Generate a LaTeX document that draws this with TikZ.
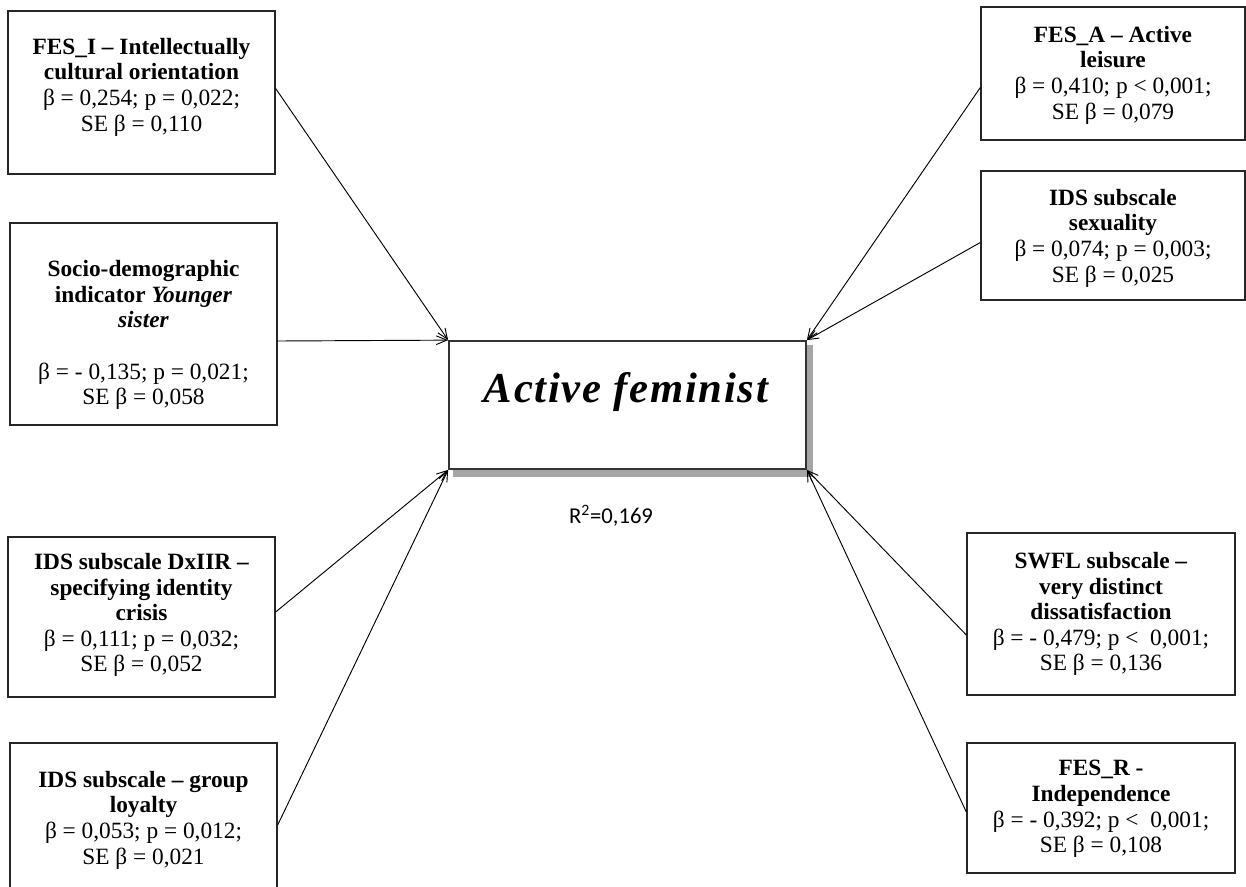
\documentclass[tikz,border=0pt]{standalone}
\usepackage{fontspec}
\setmainfont{Liberation Serif}
\newfontfamily\calibrifont{Carlito}
\usetikzlibrary{arrows.meta,fit,calc}
\begin{document}
\begin{tikzpicture}[x=0.75pt,y=-0.75pt,
  box/.style={draw=black!85,line width=1pt,inner sep=0pt,fill=white},
  txt/.style={align=center,inner sep=0pt,font=\fontsize{17.5}{19.2}\selectfont},
  conn/.style={line width=0.7pt,-{Straight Barb[length=8pt,width=6.5pt,line width=0.7pt]}}]
\useasboundingbox (0,0) rectangle (1246,886);
\clip (0,0) rectangle (1246,886);
% corner coordinates
\coordinate (b1a) at (8,11);    \coordinate (b1b) at (275,174);
\coordinate (b2a) at (10,223);  \coordinate (b2b) at (277,425);
\coordinate (b3a) at (8,537);   \coordinate (b3b) at (275,697);
\coordinate (b4a) at (10,743);  \coordinate (b4b) at (277,905);
\coordinate (r1a) at (981,7);   \coordinate (r1b) at (1245,140);
\coordinate (r2a) at (981,171); \coordinate (r2b) at (1245,300);
\coordinate (r3a) at (967,533); \coordinate (r3b) at (1235,695);
\coordinate (r4a) at (967,743); \coordinate (r4b) at (1235,873);
\coordinate (ca) at (449,341);  \coordinate (cb) at (806,469);
\coordinate (sa) at (453,345);  \coordinate (sb) at (813,477);
% boxes
\node[box,fit=(b1a)(b1b)] (b1) {};
\node[box,fit=(b2a)(b2b)] (b2) {};
\node[box,fit=(b3a)(b3b)] (b3) {};
\node[box,fit=(b4a)(b4b)] (b4) {};
\node[box,fit=(r1a)(r1b)] (r1) {};
\node[box,fit=(r2a)(r2b)] (r2) {};
\node[box,fit=(r3a)(r3b)] (r3) {};
\node[box,fit=(r4a)(r4b)] (r4) {};
\node[fill=black!35,draw=none,inner sep=0pt,fit=(sa)(sb)] (sh) {};
\node[box,line width=1.3pt,draw=black!80,fit=(ca)(cb)] (c) {};
% texts
\node[txt] (t1) at (141.5,87) {\textbf{FES\_I – Intellectually}\\\textbf{cultural orientation}\\β = 0,254; p = 0,022;\\SE β = 0,110};
\node[txt] (t2) at (143.5,335) {\textbf{Socio-demographic}\\\textbf{indicator \textit{Younger}}\\\textbf{\textit{sister}}\\[19.2pt]β = - 0,135; p = 0,021;\\SE β = 0,058};
\node[txt] (t3) at (141.5,615) {\textbf{IDS subscale DxIIR –}\\\textbf{specifying identity}\\\textbf{crisis}\\β = 0,111; p = 0,032;\\SE β = 0,052};
\node[txt] (t4) at (143.5,820) {\textbf{IDS subscale – group}\\\textbf{loyalty}\\β = 0,053; p = 0,012;\\SE β = 0,021};
\node[txt] (s1) at (1113,75) {\textbf{FES\_A – Active}\\\textbf{leisure}\\β = 0,410; p < 0,001;\\SE β = 0,079};
\node[txt] (s2) at (1113,238) {\textbf{IDS subscale}\\\textbf{sexuality}\\β = 0,074; p = 0,003;\\SE β = 0,025};
\node[txt] (s3) at (1101,614) {\textbf{SWFL subscale –}\\\textbf{very distinct}\\\textbf{dissatisfaction}\\β = - 0,479; p <\ \ 0,001;\\SE β = 0,136};
\node[txt] (s4) at (1101,809) {\textbf{FES\_R -}\\\textbf{Independence}\\β = - 0,392; p <\ \ 0,001;\\SE β = 0,108};
\node[inner sep=0pt,font=\fontsize{32}{38}\selectfont\bfseries\itshape\addfontfeatures{LetterSpace=4}] (ct) at (626,392) {Active feminist};
\node[inner sep=0pt,font=\calibrifont\fontsize{17}{20}\selectfont] (r2lab) at (611,516) {R\textsuperscript{2}=0,169};
% connectors
\draw[conn] ($(b1.east)+(0,-4)$) -- (c.north west);
\draw[conn] ($(b2.east)+(0,17)$) -- (c.north west);
\draw[conn] ($(b3.east)+(0,-5)$) -- (c.south west);
\draw[conn] ($(b4.east)+(0,1)$) -- (c.south west);
\draw[conn] ($(r1.west)+(0,14)$) -- (c.north east);
\draw[conn] ($(r2.west)+(0,7)$) -- (c.north east);
\draw[conn] ($(r3.west)+(0,21)$) -- (c.south east);
\draw[conn] ($(r4.west)+(0,4)$) -- (c.south east);
\end{tikzpicture}
\end{document}
